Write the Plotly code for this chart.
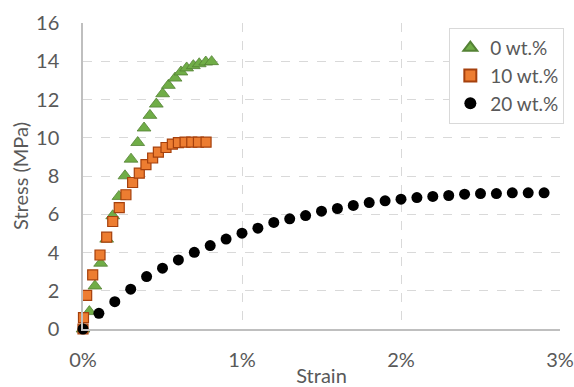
import plotly.graph_objects as go

# Strain (%) and stress (MPa)
strain_0 = [0.0, 0.040, 0.075, 0.111, 0.149, 0.187, 0.226, 0.264, 0.302, 0.344, 0.384,
            0.421, 0.461, 0.501, 0.537, 0.579, 0.616, 0.652, 0.694, 0.731, 0.772, 0.809]
stress_0 = [0.0, 0.91, 2.25, 3.44, 4.70, 5.92, 6.93, 8.01, 8.88, 9.75, 10.51,
            11.17, 11.76, 12.30, 12.74, 13.12, 13.44, 13.65, 13.77, 13.87, 13.96, 13.98]

strain_10 = [0.0, 0.003, 0.023, 0.061, 0.107, 0.149, 0.187, 0.228, 0.270, 0.312, 0.354,
             0.396, 0.438, 0.474, 0.522, 0.562, 0.600, 0.642, 0.684, 0.726, 0.774]
stress_10 = [0.0, 0.59, 1.76, 2.83, 3.87, 4.80, 5.62, 6.35, 7.02, 7.66, 8.15,
             8.59, 8.94, 9.25, 9.49, 9.67, 9.75, 9.77, 9.77, 9.77, 9.77]

strain_20 = [0.0, 0.1, 0.2, 0.3, 0.4, 0.5, 0.6, 0.7, 0.8, 0.9, 1.0,
             1.1, 1.2, 1.3, 1.4, 1.5, 1.6, 1.7, 1.8, 1.9, 2.0,
             2.1, 2.2, 2.3, 2.4, 2.5, 2.6, 2.7, 2.8, 2.9]
stress_20 = [0.0, 0.82, 1.43, 2.08, 2.74, 3.18, 3.61, 4.01, 4.36, 4.70, 5.01,
             5.27, 5.57, 5.76, 5.93, 6.16, 6.30, 6.46, 6.61, 6.70, 6.79,
             6.87, 6.93, 6.98, 7.05, 7.08, 7.08, 7.12, 7.12, 7.12]

series_names = ["0 wt.%", "10 wt.%", "20 wt.%"]
x_ticks = [0, 1, 2, 3]
x_tick_labels = ["0%", "1%", "2%", "3%"]
y_ticks = [0, 2, 4, 6, 8, 10, 12, 14, 16]

FONT = "Lato"
TXT = "#595959"
FS = 20

fig = go.Figure()
fig.add_trace(go.Scatter(
    x=strain_0, y=stress_0, mode="markers", name=series_names[0], cliponaxis=False,
    marker=dict(symbol="triangle-up", size=12, color="#70AD47",
                line=dict(color="#548235", width=0.8))))
fig.add_trace(go.Scatter(
    x=strain_10, y=stress_10, mode="markers", name=series_names[1], cliponaxis=False,
    marker=dict(symbol="square", size=10, color="#ED7D31",
                line=dict(color="#A5400D", width=1.2))))
fig.add_trace(go.Scatter(
    x=strain_20, y=stress_20, mode="markers", name=series_names[2], cliponaxis=False,
    marker=dict(symbol="circle", size=11, color="#000000",
                line=dict(color="#000000", width=0))))

fig.update_layout(
    width=574, height=387,
    margin=dict(l=83, r=14, t=23, b=58, autoexpand=False),
    paper_bgcolor="white", plot_bgcolor="white",
    font=dict(family=FONT, size=FS, color=TXT),
    showlegend=True,
    legend=dict(x=0.768, y=0.984, xanchor="left", yanchor="top",
                bgcolor="white", bordercolor="#D9D9D9", borderwidth=1,
                font=dict(family=FONT, size=19, color=TXT),
                itemsizing="constant", tracegroupgap=0),
)
fig.update_xaxes(
    range=[0, 3], tickvals=x_ticks, ticktext=x_tick_labels, automargin=False,
    showgrid=True, gridcolor="#D9D9D9", griddash="dash", gridwidth=1,
    showline=True, linecolor="#BFBFBF", linewidth=1.5, mirror=False,
    zeroline=False, ticks="", ticklabelstandoff=12,
    title=dict(text="Strain", font=dict(family=FONT, size=FS, color=TXT), standoff=0),
)
fig.update_yaxes(
    range=[0, 16], tickvals=y_ticks, automargin=False,
    showgrid=True, gridcolor="#D9D9D9", griddash="dash", gridwidth=1,
    showline=True, linecolor="#BFBFBF", linewidth=1.5,
    zeroline=False, ticks="", ticklabelstandoff=18,
    title=dict(text="Stress (MPa)", font=dict(family=FONT, size=FS, color=TXT), standoff=2),
)

fig.write_html("out.html")
